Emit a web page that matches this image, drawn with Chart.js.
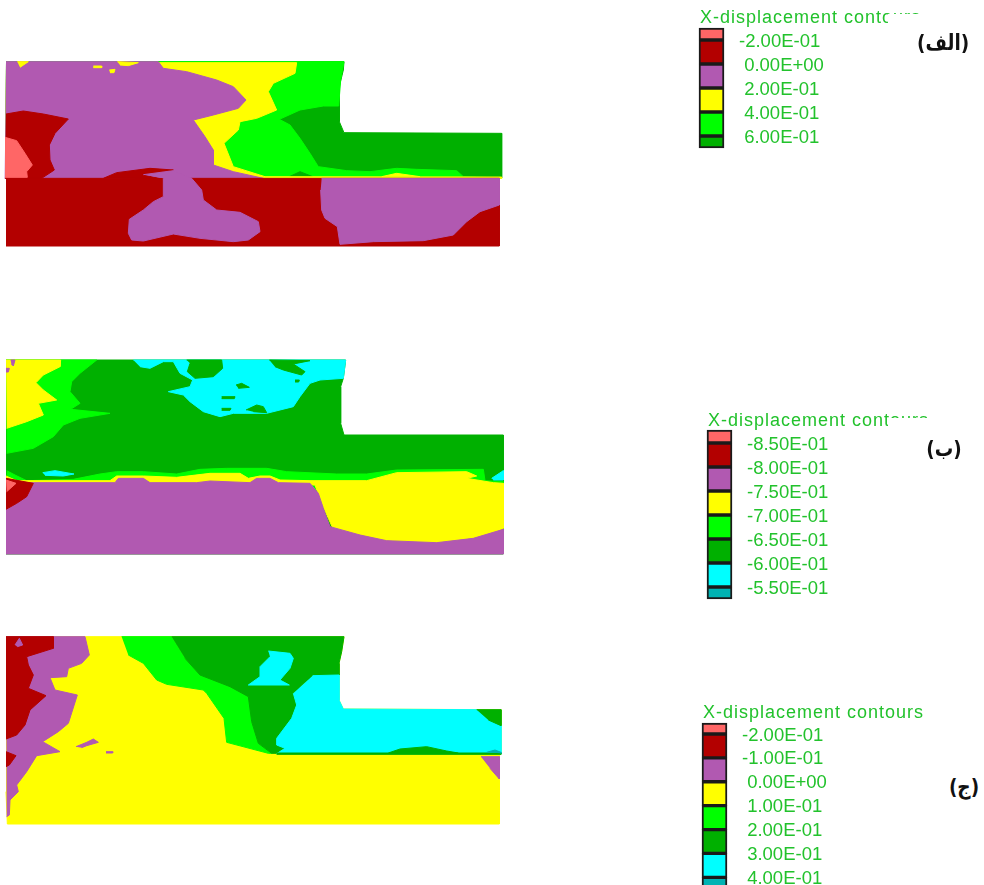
<!DOCTYPE html>
<html><head><meta charset="utf-8">
<script src="https://cdn.jsdelivr.net/npm/chart.js@4"></script>
<style>
html,body{margin:0;padding:0;background:#fff;width:984px;height:885px;overflow:hidden}
canvas{position:absolute}
.t{position:absolute;font:18px "Liberation Sans",Arial,sans-serif;letter-spacing:1px;color:#22C22C;white-space:nowrap;line-height:20px}
.a{position:absolute;font:bold 22px "DejaVu Sans",sans-serif;color:#111;white-space:nowrap;line-height:28px;direction:rtl;text-align:center;transform:scaleX(.84)}
.w{position:absolute;background:#fff}
</style></head><body>
<script>
const C={salmon:'#FF6666',red:'#B30000',purple:'#B159B1',yellow:'#FFFF00',green:'#00FF00',dark:'#00B000',cyan:'#00FFFF',teal:'#00B3B3'};

// Panel A regions (panel units)
const aBase=[[18,35],[1032,35],[1030,60],[1018,110],[1018,215],[1032,248],[1505,250],[1505,384],[15,384]];
const aGreen=[[18,35],[1032,35],[1022,90],[1016,168],[970,168],[900,180],[838,208],[870,225],[900,265],[930,310],[955,350],[1040,362],[1110,365],[1190,355],[1250,358],[1370,362],[1390,380],[1505,384],[15,384]];
const aHump=[[868,380],[900,365],[938,380]];
const aYellow=[[18,38],[890,38],[885,70],[820,100],[805,125],[830,180],[770,205],[720,215],[715,240],[672,280],[700,350],[795,380],[1505,381],[1505,385],[15,385]];
const aYellowHump=[[1145,380],[1190,370],[1260,380]];
const aPurple=[[18,35],[475,35],[490,55],[560,65],[650,90],[700,110],[738,150],[715,175],[640,195],[580,210],[615,260],[640,300],[640,345],[700,365],[790,385],[14,385]];
const aBit1=[[52,35],[85,35],[60,52]];
const aBit2=[[280,48],[305,48],[305,53],[280,53]];
const aBit3=[[328,60],[345,58],[342,68],[330,68]];
const aBit4=[[352,35],[415,38],[385,47],[360,45]];
const aRed=[[18,192],[70,183],[130,192],[205,207],[165,250],[148,285],[150,330],[163,360],[125,385],[15,385]];
const aWedge=[[310,385],[350,368],[450,355],[520,360],[430,375],[490,388]];
const aLower=[[18,385],[1498,385],[1498,588],[18,588]];
const aSalmon=[[15,262],[50,272],[75,310],[97,345],[80,365],[82,382],[15,382]];
const aCentre=[[430,374],[520,362],[575,385],[605,420],[610,450],[650,480],[720,487],[775,515],[780,545],[745,570],[700,575],[600,565],[520,552],[430,573],[395,570],[385,550],[388,508],[430,480],[460,455],[490,440],[490,385]];
const aRight=[[965,385],[1498,385],[1498,465],[1440,485],[1400,515],[1360,555],[1270,572],[1120,575],[1020,583],[1012,530],[975,505],[965,480],[962,420]];

// Panel B regions
const bBase=[[18,30],[1037,30],[1030,85],[1022,110],[1022,220],[1032,255],[1510,255],[1510,612],[18,612]];
const bCyan=[[400,30],[1037,30],[1030,85],[960,90],[930,100],[900,140],[880,170],[800,190],[700,190],[660,200],[610,185],[570,155],[550,135],[505,125],[570,110],[578,90],[540,70],[520,35],[490,35],[450,55],[420,50]];
const bIsle1=[[560,30],[665,30],[668,55],[640,80],[585,85],[562,65],[570,40]];
const bIsle2=[[808,30],[930,32],[880,42],[915,65],[905,75],[850,60],[825,50]];
const bIsle3=[[708,105],[725,100],[748,112],[715,115]];
const bIsle4=[[665,140],[705,140],[703,146],[665,146]];
const bIsle5=[[665,175],[693,175],[690,181],[665,181]];
const bIsle6=[[738,180],[770,165],[790,170],[800,188],[760,185]];
const bIsle7=[[885,90],[898,90],[896,96],[885,96]];
const bGreenTop=[[18,30],[290,30],[240,70],[215,95],[210,125],[240,160],[212,178],[330,190],[240,205],[190,225],[160,260],[100,295],[20,310]];
const bYellowTop=[[18,30],[182,30],[180,50],[130,75],[108,98],[130,120],[170,150],[115,160],[130,195],[80,215],[20,235]];
const bBit1=[[32,30],[45,30],[40,48],[34,42]];
const bBit2=[[18,55],[28,55],[25,66],[18,66]];
const bGreenBand=[[20,362],[45,375],[80,392],[220,388],[300,372],[350,365],[430,365],[530,372],[600,358],[680,355],[800,355],[860,365],[1010,372],[1100,372],[1190,360],[1450,358],[1455,392],[1510,395],[1510,420],[18,420]];
const bCyanSmall=[[128,368],[165,362],[222,372],[190,378],[135,376]];
const bCyanRight=[[1475,385],[1510,362],[1510,390],[1480,390]];
const bYellowBand=[[18,378],[50,392],[330,392],[350,378],[430,378],[530,382],[630,370],[720,370],[745,385],[780,378],[810,378],[840,390],[930,392],[1100,392],[1190,368],[1400,365],[1430,378],[1400,385],[1480,398],[1510,400],[1510,535],[1490,545],[1420,565],[1310,578],[1160,572],[1080,555],[1000,538],[985,505],[965,460],[945,405],[18,405]];
const bPurple=[[18,398],[345,398],[355,385],[430,385],[450,398],[590,398],[630,393],[750,398],[770,385],[810,385],[835,398],[930,400],[955,430],[970,475],[990,530],[1080,555],[1160,572],[1310,578],[1420,565],[1510,538],[1510,612],[18,612]];
const bRed=[[18,385],[100,400],[80,440],[50,460],[18,478]];
const bSalmon=[[18,390],[48,400],[20,425],[18,425]];

// Panel C regions
const cBase=[[18,35],[1032,35],[1025,80],[1017,115],[1017,225],[1030,252],[1503,254],[1503,386],[1498,390],[1498,597],[22,597],[18,500]];
const cGreen=[[365,35],[515,35],[555,100],[600,150],[690,185],[745,215],[755,290],[775,355],[815,385],[805,385],[680,352],[672,280],[620,205],[610,195],[500,178],[470,165],[430,115],[385,90]];
const cDark=[[515,35],[1032,35],[1025,80],[1017,115],[1017,150],[938,152],[880,205],[890,240],[875,280],[830,340],[830,360],[855,370],[830,385],[815,385],[775,355],[755,290],[745,215],[690,185],[600,150],[555,100]];
const cIsle=[[805,78],[870,85],[880,100],[870,130],[840,165],[868,180],[745,180],[780,155],[780,125],[810,95]];
const cCyan=[[938,152],[1017,150],[1017,225],[1030,252],[1430,254],[1503,300],[1503,386],[830,386],[855,370],[830,360],[830,340],[875,280],[890,240],[880,205]];
const cCorner=[[1430,254],[1503,254],[1503,302],[1465,285]];
const cStrip=[[830,384],[1503,384],[1503,388],[830,388]];
const cHump=[[1165,384],[1200,372],[1280,365],[1340,378],[1375,384]];
const cTeal=[[1460,382],[1485,375],[1503,382],[1503,385]];
const cPurple=[[18,35],[255,35],[268,90],[245,115],[205,130],[200,155],[150,158],[165,195],[232,210],[205,295],[175,320],[128,350],[180,380],[110,392],[80,440],[50,480],[55,500],[30,525],[28,570],[20,575]];
const cBit1=[[228,365],[260,352],[280,342],[295,352],[260,362],[245,368]];
const cBit2=[[318,380],[338,380],[338,384],[318,384]];
const cBit3=[[1443,395],[1498,395],[1498,462],[1470,430]];
const cRed=[[18,35],[160,35],[160,70],[80,95],[85,120],[100,150],[85,190],[138,212],[90,255],[75,300],[50,330],[18,342]];
const cBit4=[[45,60],[58,40],[68,60],[52,65]];
const cRedLow=[[18,380],[48,392],[28,420],[18,425]];

// Legend scales
const aLevels=[-0.2,0,0.2,0.4,0.6];
const aLabels=['-2.00E-01','0.00E+00','2.00E-01','4.00E-01','6.00E-01'];
const aEnds=[-0.3,0.7];
const aColors=['salmon','red','purple','yellow','green','dark'];
const bLevels=[-0.85,-0.8,-0.75,-0.7,-0.65,-0.6,-0.55];
const bLabels=['-8.50E-01','-8.00E-01','-7.50E-01','-7.00E-01','-6.50E-01','-6.00E-01','-5.50E-01'];
const bEnds=[-0.877,-0.525];
const bColors=['salmon','red','purple','yellow','green','dark','cyan','teal'];
const cLevels=[-0.2,-0.1,0,0.1,0.2,0.3,0.4];
const cLabels=['-2.00E-01','-1.00E-01','0.00E+00','1.00E-01','2.00E-01','3.00E-01','4.00E-01'];
const cEnds=[-0.246,0.453];
const cColors=['salmon','red','purple','yellow','green','dark','cyan','teal'];

function add(tag,cls,css,txt){const e=document.createElement(tag);if(cls)e.className=cls;e.style.cssText=css;if(txt)e.textContent=txt;document.body.appendChild(e);return e;}

function panel(left,top,w,h,layers){
  const c=add('canvas','',`left:${left}px;top:${top}px;width:${w}px;height:${h}px`);
  c.width=w;c.height=h;
  // Chart.js paints the first dataset last, so the back-to-front list is reversed
  const ordered=layers.slice().reverse();
  new Chart(c,{type:'scatter',data:{datasets:ordered.map(([pts,col])=>({data:pts,showLine:true,fill:'shape',backgroundColor:C[col],borderColor:C[col],borderWidth:1,pointRadius:0,tension:0}))},
    options:{responsive:false,animation:false,devicePixelRatio:1,events:[],layout:{padding:0},
      plugins:{legend:{display:false},tooltip:{enabled:false},title:{display:false}},
      scales:{x:{type:'linear',display:false,min:0,max:w*3},y:{type:'linear',display:false,reverse:true,min:0,max:h*3}}}});
}

function legend(left,top,barH,levels,labels,ends,colors){
  const pad=2,w=190,h=barH+pad*2;
  const c=add('canvas','',`left:${left-pad}px;top:${top-pad}px;width:${w}px;height:${h}px`);
  c.width=w;c.height=h;
  const edges=[ends[0],...levels,ends[1]];
  const perPx=(ends[1]-ends[0])/barH;
  new Chart(c,{type:'bar',data:{labels:[''],datasets:colors.map((col,i)=>({data:[[edges[i],edges[i+1]]],backgroundColor:C[col],borderColor:'#1a1a1a',borderWidth:2,borderSkipped:false,barPercentage:1,categoryPercentage:1,clip:false}))},
    options:{responsive:false,animation:false,devicePixelRatio:1,events:[],layout:{padding:{left:pad,top:pad,bottom:pad,right:0}},
      plugins:{legend:{display:false},tooltip:{enabled:false},title:{display:false}},
      scales:{x:{stacked:true,display:false},
        y:{position:'right',reverse:true,min:ends[0],max:ends[1],grid:{display:false,drawTicks:false},border:{display:false},
          afterBuildTicks(s){s.ticks=levels.map(v=>({value:v+1.5*perPx}));},
          afterFit(s){s.width=w-pad-25;s.paddingTop=0;s.paddingBottom=0;},
          ticks:{autoSkip:false,color:'#22C22C',padding:15,font:{family:'"Liberation Sans",Arial,sans-serif',size:18.5},
            crossAlign:'near',callback(v,i){const l=labels[i];return l[0]==='-'?l:'\u00a0'+l;}}}}}});
}

panel(0,50,510,205,[[aBase,'dark'],[aGreen,'green'],[aHump,'dark'],[aYellow,'yellow'],[aYellowHump,'yellow'],[aPurple,'purple'],[aBit1,'yellow'],[aBit2,'yellow'],[aBit3,'yellow'],[aBit4,'yellow'],[aRed,'red'],[aWedge,'red'],[aLower,'red'],[aSalmon,'salmon'],[aCentre,'purple'],[aRight,'purple']]);
panel(0,350,510,210,[[bBase,'dark'],[bCyan,'cyan'],[bIsle1,'dark'],[bIsle2,'dark'],[bIsle3,'dark'],[bIsle4,'dark'],[bIsle5,'dark'],[bIsle6,'dark'],[bIsle7,'dark'],[bGreenTop,'green'],[bYellowTop,'yellow'],[bBit1,'purple'],[bBit2,'purple'],[bGreenBand,'green'],[bCyanSmall,'cyan'],[bCyanRight,'cyan'],[bYellowBand,'yellow'],[bPurple,'purple'],[bRed,'red'],[bSalmon,'salmon']]);
panel(0,625,510,205,[[cBase,'yellow'],[cGreen,'green'],[cDark,'dark'],[cIsle,'cyan'],[cCyan,'cyan'],[cCorner,'dark'],[cStrip,'dark'],[cHump,'dark'],[cTeal,'teal'],[cPurple,'purple'],[cBit1,'purple'],[cBit2,'purple'],[cBit3,'purple'],[cRed,'red'],[cBit4,'purple'],[cRedLow,'red']]);

legend(699,28,120,aLevels,aLabels,aEnds,aColors);
legend(707,430,169,bLevels,bLabels,bEnds,bColors);
legend(702,723,167,cLevels,cLabels,cEnds,cColors);

add('div','t','left:700px;top:7px','X-displacement contours');
add('div','w','left:888px;top:14px;width:42px;height:14px');
add('div','t','left:708px;top:410px','X-displacement contours');
add('div','w','left:888px;top:418px;width:44px;height:12px');
add('div','t','left:703px;top:702px','X-displacement contours');
add('div','a','left:914px;top:29px;width:60px','(الف)');
add('div','a','left:914px;top:435px;width:60px','(ب)');
add('div','a','left:934px;top:773px;width:60px','(ج)');
</script>
</body></html>
